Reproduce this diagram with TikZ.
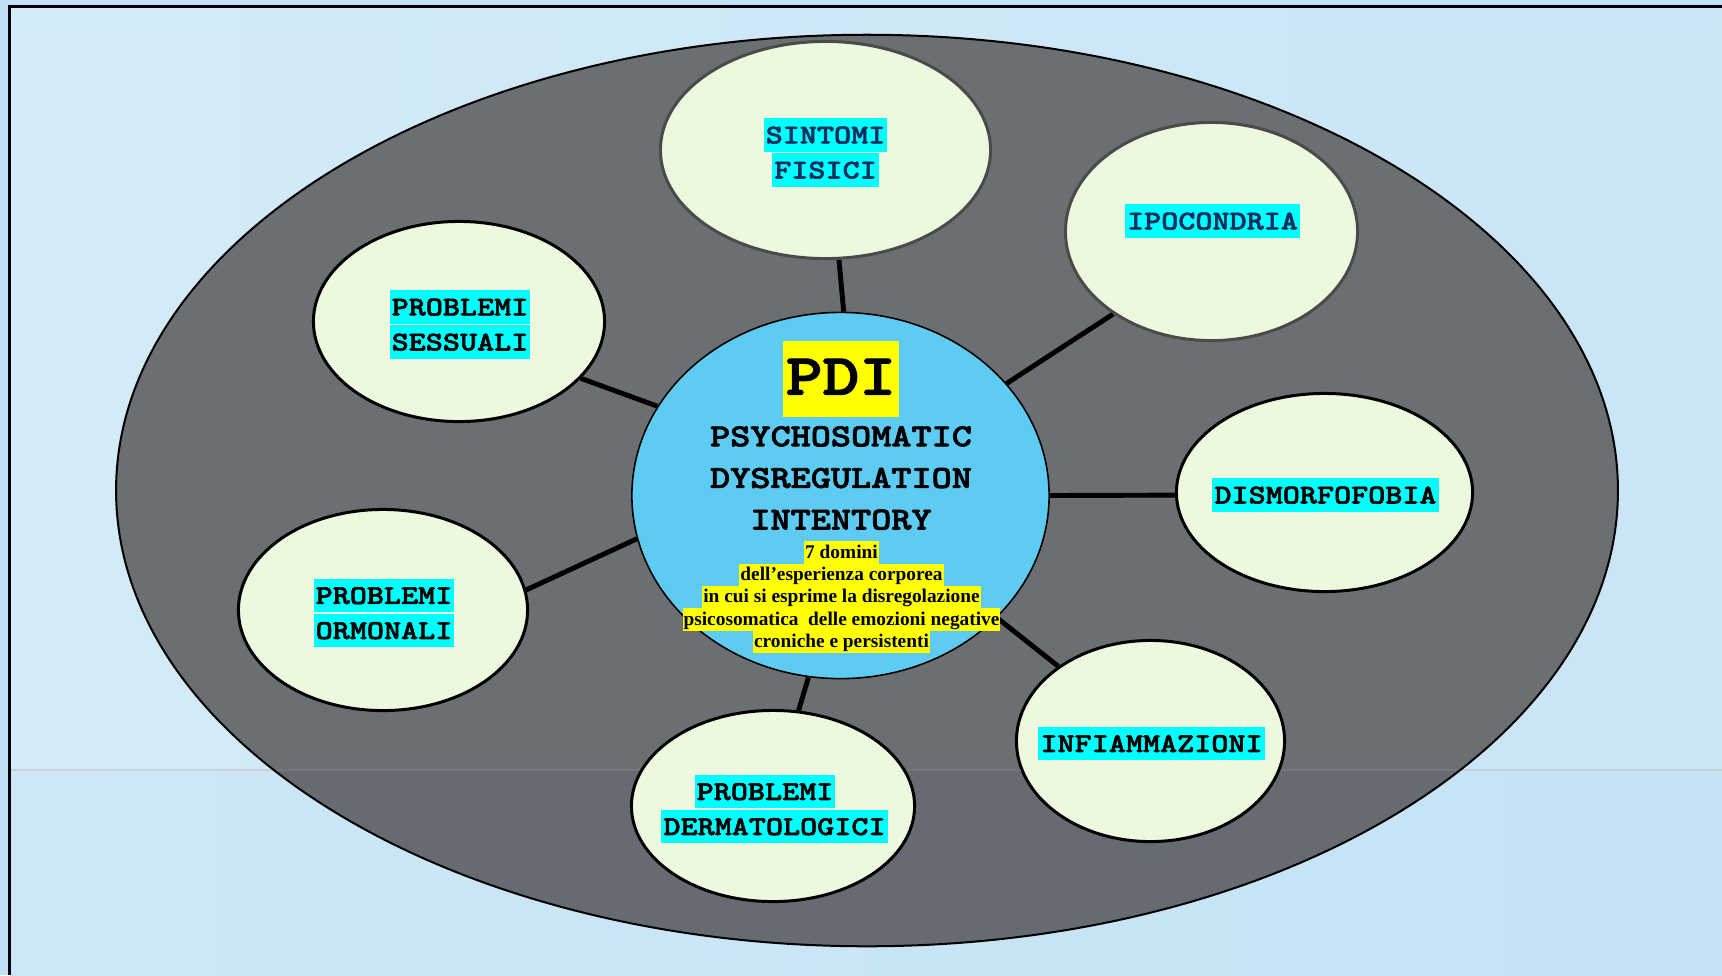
\documentclass[tikz,border=0pt]{standalone}
\usepackage{fontspec}
\setmainfont{Liberation Serif}
\newfontfamily\slabmono{lmmonolt10-bold.otf}[FakeStretch=1.2, FakeBold=2.2]
\usetikzlibrary{shapes.geometric}

\definecolor{bgEdge}{HTML}{C2E1F7}
\definecolor{bgA}{HTML}{D4EBF7}
\definecolor{bgB}{HTML}{EEF8FC}
\definecolor{bgC}{HTML}{C9E5F6}
\definecolor{bgA2}{HTML}{CDE7F6}
\definecolor{bgB2}{HTML}{E4F2FA}
\definecolor{bgC2}{HTML}{C4E3F5}
\definecolor{seam}{HTML}{C8D1D6}
\definecolor{slate}{HTML}{6B6F71}
\definecolor{slateLow}{HTML}{656B70}
\definecolor{leaf}{HTML}{EDF9DE}
\definecolor{sky}{HTML}{5DCBF2}
\definecolor{hlcyan}{HTML}{00FFFF}
\definecolor{hlyellow}{HTML}{FFFF00}
\definecolor{navy}{HTML}{0D2E5C}
\definecolor{rimgray}{HTML}{4A4A4A}

\pgfdeclarelayer{bg}
\pgfdeclarelayer{links}
\pgfsetlayers{bg,links,main}

% highlighted text lines
\newcommand\cy[1]{{\setlength{\fboxsep}{0pt}\colorbox{hlcyan}{\hspace*{0.6pt}\rule[-2.3pt]{0pt}{9.4pt}#1\hspace*{0.6pt}}}}
\newcommand\yl[1]{{\setlength{\fboxsep}{0pt}\colorbox{hlyellow}{\hspace*{0.3pt}\rule[-1.5pt]{0pt}{6.35pt}#1\hspace*{0.3pt}}}}
\newcommand\tstrut{\rule[-2.37pt]{0pt}{9.47pt}}

\tikzset{
  sat/.style={ellipse, draw=black, line width=0.85pt, fill=leaf, inner sep=0pt},
  satgray/.style={sat, draw=rimgray},
  tag/.style={inner sep=0pt, align=center, font=\slabmono\fontsize{7.71}{9.96}\selectfont},
  link/.style={line width=1.4pt, black},
}

\begin{document}
\begin{tikzpicture}[x=0.01cm, y=-0.01cm]
\useasboundingbox (0,0) rectangle (1722,975);

% central ellipse
\node[ellipse, draw=black, line width=0.45pt, fill=sky, inner sep=0pt,
      minimum width=4.17cm, minimum height=3.66cm] (core) at (840.5,495.5) {};
\node[inner sep=0pt, font=\slabmono\fontsize{16.57}{20}\selectfont] (pdi) at (841,379)
  {{\setlength{\fboxsep}{0pt}\colorbox{hlyellow}{\hspace*{0.85pt}\rule[-6.26pt]{0pt}{21.36pt}PDI\hspace*{0.85pt}}}};
\node[inner sep=0pt, align=center, font=\slabmono\fontsize{9.09}{11.84}\selectfont] (title) at (841,479.5)
  {\tstrut PSYCHOSOMATIC\\\tstrut DYSREGULATION\\\tstrut INTENTORY};
\node[inner sep=0pt, align=center, font=\fontsize{5.5}{6.35}\selectfont\bfseries] (domini) at (841.5,597)
  {\yl{7 domini}\\\yl{dell’esperienza corporea}\\\yl{in cui si esprime la disregolazione}\\
   \yl{psicosomatica\ \ delle emozioni negative}\\\yl{croniche e persistenti}};

% surrounding ellipses
\node[satgray, minimum width=3.30cm, minimum height=2.17cm] (sint) at (825.5,150) {};
\node[satgray, minimum width=2.92cm, minimum height=2.18cm] (ipoc) at (1211.5,231.5) {};
\node[sat, minimum width=2.91cm, minimum height=2.00cm] (sess) at (459,321.5) {};
\node[sat, minimum width=2.96cm, minimum height=1.98cm] (dism) at (1324.5,492.5) {};
\node[sat, minimum width=2.89cm, minimum height=2.01cm] (ormo) at (383,610) {};
\node[sat, minimum width=2.68cm, minimum height=2.01cm] (infi) at (1150.5,741) {};
\node[sat, minimum width=2.83cm, minimum height=1.91cm] (derm) at (773,806) {};

% labels
\node[tag, text=navy] (sint-t) at (825.5,152.5) {\cy{SINTOMI}\\\cy{FISICI}};
\node[tag, text=navy] (ipoc-t) at (1212.5,221) {\cy{IPOCONDRIA}};
\node[tag] (sess-t) at (460,324.5) {\cy{PROBLEMI}\\\cy{SESSUALI}};
\node[tag] (dism-t) at (1325.5,495) {\cy{DISMORFOFOBIA}};
\node[tag] (ormo-t) at (384,613) {\cy{PROBLEMI}\\\cy{ORMONALI}};
\node[tag] (infi-t) at (1151.5,743.5) {\cy{INFIAMMAZIONI}};
\node[tag] (derm-t) at (774.5,809) {\cy{PROBLEMI}\hspace*{5.4pt}\\\cy{DERMATOLOGICI}};

% connectors
\begin{pgfonlayer}{links}
\draw[link] (core.89.5) -- (sint.277.4);
\draw[link] (core.34.6) -- (ipoc.220.6);
\draw[link] (core.154.4) -- (sess.335.5);
\draw[link] (core.0) -- (dism.181);
\draw[link] (core.192.1) -- (ormo.8);
\draw[link] (core.322) -- (infi.141.3);
\draw[link] (core.260.6) -- (derm.75.7);
\end{pgfonlayer}

% backdrop, frame and the large grey ellipse
\begin{pgfonlayer}{bg}
\fill[bgEdge] (0,0) rectangle (1722,975);
\shade[left color=bgA, middle color=bgB, right color=bgC] (9.5,6) rectangle (1722,770);
\shade[left color=bgA2, middle color=bgB2, right color=bgC2] (9.5,770) rectangle (1722,975);
\draw[seam, line width=0.3pt] (9.5,770) -- (1722,770);
\draw[line width=0.85pt, black] (9.5,975) -- (9.5,6) -- (1722,6);
\fill[slate] (867,490.5) ellipse [x radius=7.505cm, y radius=4.555cm];
\begin{scope}
  \clip (867,490.5) ellipse [x radius=7.505cm, y radius=4.555cm];
  \fill[slateLow] (0,770) rectangle (1722,975);
  \draw[white, opacity=0.08, line width=0.3pt] (0,770) -- (1722,770);
\end{scope}
\draw[black, line width=0.57pt] (867,490.5) ellipse [x radius=7.505cm, y radius=4.555cm];
\end{pgfonlayer}
\end{tikzpicture}
\end{document}
